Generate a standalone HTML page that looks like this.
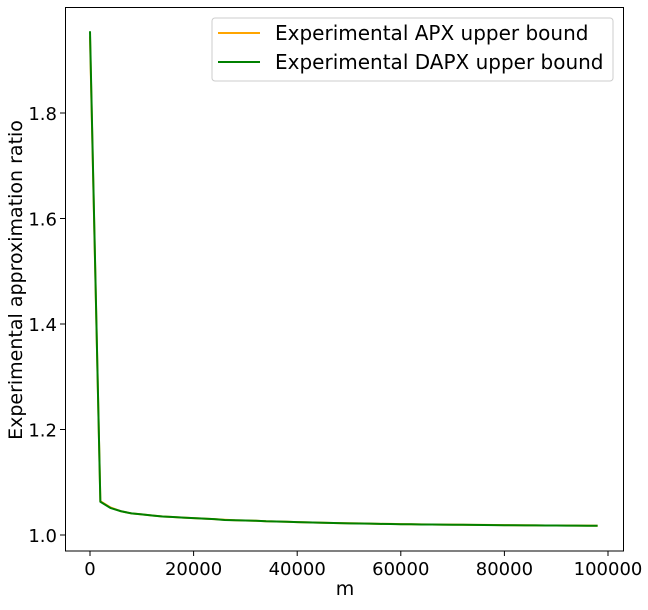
<!DOCTYPE html>
<html><head><meta charset="utf-8"><style>
body{margin:0;background:#fff;}
svg text{font-family:"DejaVu Sans","Liberation Sans",sans-serif;fill:#000;}
</style></head><body>
<svg id="chart" width="648" height="605" xmlns="http://www.w3.org/2000/svg">
<g id="lines"></g>
<rect x="65.5" y="7.5" width="558" height="543.5" fill="none" stroke="#000" stroke-width="1"/>
<g id="ticks"></g>
<text x="345" y="595" font-size="19" text-anchor="middle">m</text>
<text transform="translate(22,280) rotate(-90)" font-size="19" text-anchor="middle">Experimental approximation ratio</text>
<g>
<rect x="212" y="18" width="401" height="63" rx="3" fill="#fff" stroke="#ccc"/>
<line x1="218" y1="33" x2="260" y2="33" stroke="orange" stroke-width="2"/>
<text x="275" y="40" font-size="20">Experimental APX upper bound</text>
<line x1="218" y1="62" x2="260" y2="62" stroke="green" stroke-width="2"/>
<text x="275" y="69" font-size="20">Experimental DAPX upper bound</text>
</g>
</svg>
<script>
const mValues = [0,2000,4000,6000,8000,10000,12000,14000,16000,18000,20000,22000,24000,26000,28000,30000,32000,34000,36000,38000,40000,42000,44000,46000,48000,50000,52000,54000,56000,58000,60000,62000,64000,66000,68000,70000,72000,74000,76000,78000,80000,82000,84000,86000,88000,90000,92000,94000,96000,98000];
const dapxValues = [1.955,1.063,1.051,1.045,1.041,1.039,1.037,1.035,1.034,1.033,1.032,1.031,1.030,1.0285,1.028,1.0275,1.027,1.026,1.0255,1.025,1.0245,1.024,1.0235,1.023,1.0225,1.022,1.0218,1.0215,1.021,1.0208,1.0205,1.0203,1.020,1.0198,1.0196,1.0195,1.0194,1.0193,1.019,1.0188,1.0186,1.0185,1.0183,1.0182,1.018,1.0179,1.0178,1.0177,1.0176,1.0175];
const apxValues = [1.945,1.064,1.052,1.045,1.041,1.039,1.037,1.035,1.034,1.033,1.032,1.031,1.030,1.029,1.028,1.0275,1.027,1.026,1.0255,1.025,1.0245,1.024,1.0235,1.023,1.0225,1.0222,1.022,1.0216,1.0212,1.021,1.0207,1.0204,1.0201,1.0199,1.0197,1.0196,1.0195,1.0193,1.0191,1.0189,1.0187,1.0186,1.0184,1.0182,1.0181,1.018,1.0179,1.0178,1.0177,1.0176];
const xTicks = [0,20000,40000,60000,80000,100000];
const yTicks = [1.0,1.2,1.4,1.6,1.8];
const yTickLabels = ["1.0","1.2","1.4","1.6","1.8"];

const NS="http://www.w3.org/2000/svg";
const x = m => 90 + m*(608-90)/100000;
const y = v => 535 - (v-1)*527.5;
function mk(tag, attrs, parent){const e=document.createElementNS(NS,tag);for(const k in attrs)e.setAttribute(k,attrs[k]);parent.appendChild(e);return e;}
const lines=document.getElementById('lines'), ticks=document.getElementById('ticks');
function drawSeries(vals,color,name){
  const p=mk('polyline',{points:vals.map((v,i)=>x(mValues[i]).toFixed(2)+','+y(v).toFixed(2)).join(' '),fill:'none',stroke:color,'stroke-width':2,'stroke-linejoin':'round'},lines);
  
  
}
drawSeries(apxValues,'orange','apx-line');
drawSeries(dapxValues,'green','dapx-line');
xTicks.forEach(t=>{
  const l=mk('line',{x1:x(t),x2:x(t),y1:551,y2:556,stroke:'#000'},ticks);
  
  
  const tx=mk('text',{x:x(t),y:575,'font-size':18,'text-anchor':'middle'},ticks);
  tx.textContent=String(t);
  
  
});
yTicks.forEach((t,i)=>{
  const l=mk('line',{x1:60,x2:65,y1:y(t),y2:y(t),stroke:'#000'},ticks);
  
  
  const tx=mk('text',{x:57,y:y(t)+7,'font-size':18,'text-anchor':'end'},ticks);
  tx.textContent=yTickLabels[i];
  
  
});
</script>
</body></html>
